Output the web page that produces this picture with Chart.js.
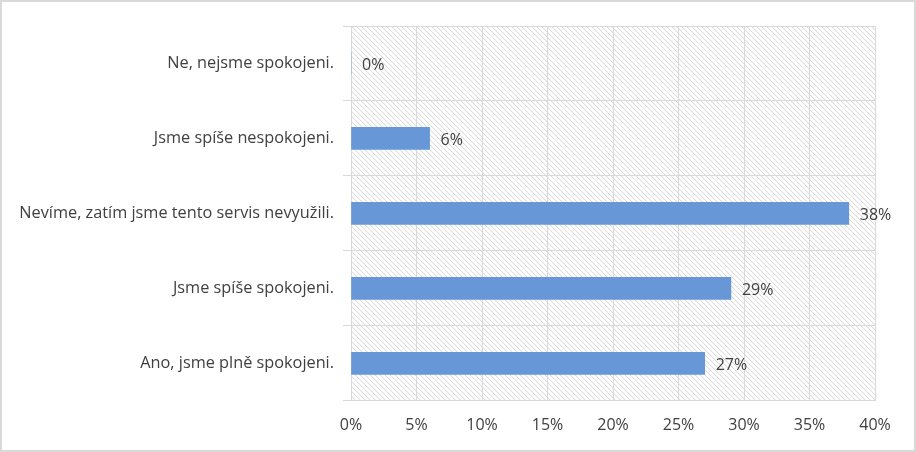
<!DOCTYPE html>
<html>
<head>
<meta charset="utf-8">
<script src="https://cdn.jsdelivr.net/npm/chart.js@4"></script>
<style>
  html, body { margin: 0; padding: 0; background: #fff; }
  #wrap { width: 912px; height: 448px; border: 2px solid #d9d9d9; position: relative; }
  canvas { display: block; }
</style>
</head>
<body>
<div id="wrap"><canvas id="chart" width="912" height="448"></canvas></div>
<script>
// Categories top to bottom
const categories = [
    'Ne, nejsme spokojeni.',
    'Jsme spíše nespokojeni.',
    'Nevíme, zatím jsme tento servis nevyužili.',
    'Jsme spíše spokojeni.',
    'Ano, jsme plně spokojeni.'
];
const values = [0, 6, 38, 29, 27];
const xTicks = [0, 5, 10, 15, 20, 25, 30, 35, 40];

const FONT = "'Open Sans', 'Liberation Sans', sans-serif";
const TEXT = '#404040';

// hatched plot background
const hatchPlugin = {
    id: 'hatch',
    beforeDraw(chart) {
        const { ctx, chartArea: a } = chart;
        ctx.save();
        ctx.beginPath();
        ctx.rect(a.left, a.top, a.right - a.left, a.bottom - a.top);
        ctx.clip();
        ctx.strokeStyle = '#d3d3d3';
        ctx.lineWidth = 1;
        const h = a.bottom - a.top;
        for (let x = a.left - h; x < a.right; x += 5) {
            ctx.beginPath();
            ctx.moveTo(x, a.top);
            ctx.lineTo(x + h, a.bottom);
            ctx.stroke();
        }
        ctx.restore();
    }
};

// value labels right of each bar
const labelPlugin = {
    id: 'valueLabels',
    afterDatasetsDraw(chart) {
        const { ctx } = chart;
        const meta = chart.getDatasetMeta(0);
        ctx.save();
        ctx.font = '16px ' + FONT;
        ctx.fillStyle = TEXT;
        ctx.textAlign = 'left';
        ctx.textBaseline = 'middle';
        meta.data.forEach((bar, i) => {
            ctx.fillText(values[i] + '%', bar.x + 11, bar.y + 2);
        });
        ctx.restore();
    }
};

new Chart(document.getElementById('chart'), {
    type: 'bar',
    data: {
        labels: categories,
        datasets: [{
            data: values,
            backgroundColor: '#6797d6',
            barThickness: 22
        }]
    },
    options: {
        indexAxis: 'y',
        responsive: false,
        animation: false,
        layout: { padding: { top: 24, right: 39, bottom: 0, left: 0 } },
        plugins: { legend: { display: false }, tooltip: { enabled: false } },
        scales: {
            x: {
                min: 0,
                max: 40,
                afterBuildTicks(scale) {
                    scale.ticks = xTicks.map(v => ({ value: v }));
                },
                ticks: {
                    callback: v => v + '%',
                    font: { family: FONT, size: 16 },
                    color: TEXT,
                    padding: 15
                },
                grid: { color: '#d9d9d9', drawTicks: false },
                border: { display: false }
            },
            y: {
                afterFit(scale) { scale.width = 349; },
                ticks: {
                    font: { family: FONT, size: 16.3 },
                    color: TEXT,
                    padding: 9
                },
                grid: { color: '#d9d9d9', drawTicks: true, tickLength: 8, offset: true },
                border: { display: false }
            }
        }
    },
    plugins: [hatchPlugin, labelPlugin]
});
</script>
</body>
</html>
